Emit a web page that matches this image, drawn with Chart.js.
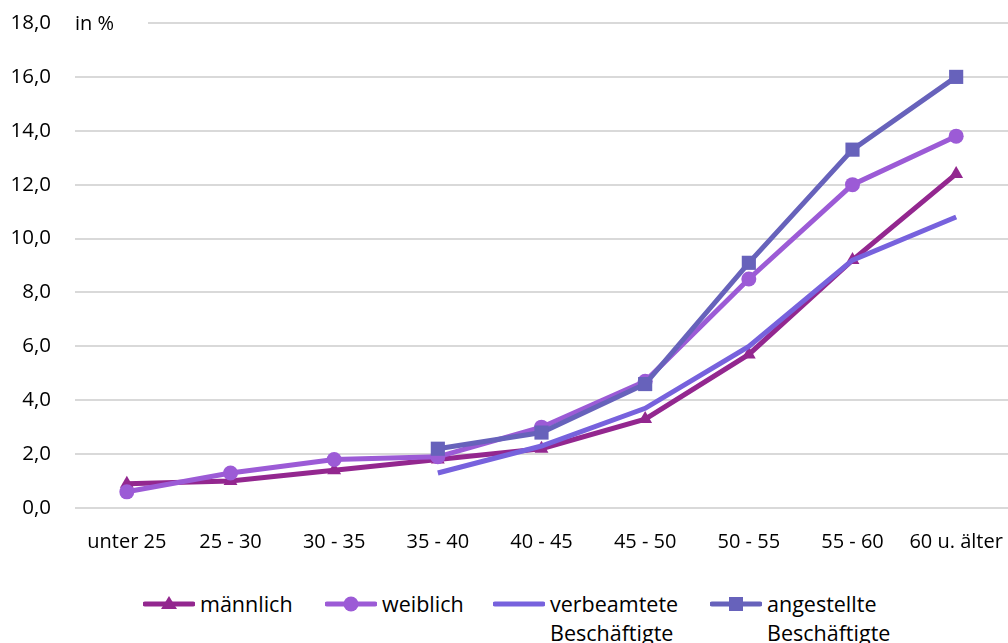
<!DOCTYPE html>
<html>
<head>
<meta charset="utf-8">
<script src="https://cdn.jsdelivr.net/npm/chart.js@4"></script>
<style>
  body { margin: 0; background: #fff; font-family: "Open Sans", sans-serif; }
  #wrap { position: relative; width: 1008px; height: 643px; }
  #chartBox { position: absolute; left: 0; top: 0; width: 1008px; height: 568px; }
  #legend { position: absolute; left: 0; top: 589px; width: 1008px; height: 54px; }
  .item { position: absolute; top: 0; display: flex; align-items: flex-start; font-size: 21.5px; color: #000; line-height: 29px; }
  .item svg { margin-right: 5px; margin-top: 3px; }
</style>
</head>
<body>
<div id="wrap">
  <div id="chartBox"><canvas id="chart"></canvas></div>
  <div id="legend"></div>
</div>
<script>
const categories = ['unter 25', '25 - 30', '30 - 35', '35 - 40', '40 - 45', '45 - 50', '50 - 55', '55 - 60', '60 u. älter'];
const maennlich = [0.9, 1.0, 1.4, 1.8, 2.2, 3.3, 5.7, 9.2, 12.4];
const weiblich = [0.6, 1.3, 1.8, 1.9, 3.0, 4.7, 8.5, 12.0, 13.8];
const verbeamtete = [null, null, null, 1.3, 2.3, 3.7, 6.0, 9.2, 10.8];
const angestellte = [null, null, null, 2.2, 2.8, 4.6, 9.1, 13.3, 16.0];
const yTicks = [0, 2, 4, 6, 8, 10, 12, 14, 16, 18];

const series = [
  { label: ['männlich'], data: maennlich, color: '#93278f', marker: 'triangle', radius: 8, order: 4, left: 143 },
  { label: ['weiblich'], data: weiblich, color: '#9c5bd6', marker: 'circle', radius: 7.5, order: 3, left: 325 },
  { label: ['verbeamtete', 'Beschäftigte'], data: verbeamtete, color: '#7762dd', marker: false, radius: 0, order: 2, left: 493 },
  { label: ['angestellte', 'Beschäftigte'], data: angestellte, color: '#6762bb', marker: 'rect', radius: 10, order: 1, left: 710 }
];

const unitLabel = {
  id: 'unitLabel',
  afterDraw(chart) {
    const ctx = chart.ctx;
    const y = chart.scales.y.getPixelForValue(18);
    const x = chart.chartArea.left;
    ctx.save();
    ctx.fillStyle = '#fff';
    ctx.fillRect(x - 1, y - 6, 74, 12);
    ctx.fillStyle = '#000';
    ctx.font = '20px "Open Sans"';
    ctx.textBaseline = 'middle';
    ctx.fillText('in %', x, y + 1);
    ctx.restore();
  }
};

new Chart(document.getElementById('chart'), {
  type: 'line',
  data: {
    labels: categories,
    datasets: series.map(s => ({
      label: s.label.join(' '),
      data: s.data,
      borderColor: s.color,
      backgroundColor: s.color,
      borderWidth: 5,
      pointStyle: s.marker,
      pointRadius: s.radius,
      pointHoverRadius: s.radius,
      pointBorderWidth: 0,
      tension: 0,
      order: s.order,
      spanGaps: false
    }))
  },
  options: {
    responsive: true,
    maintainAspectRatio: false,
    animation: false,
    layout: { autoPadding: false, padding: { top: 23, right: 0, left: 0, bottom: 0 } },
    plugins: { legend: { display: false }, tooltip: { enabled: false } },
    scales: {
      x: {
        offset: true,
        afterFit: scale => { scale.paddingLeft = 0; scale.paddingRight = 0; },
        grid: { display: false },
        border: { display: false },
        ticks: { color: '#000', font: { size: 20, family: 'Open Sans' }, padding: 14, maxRotation: 0 }
      },
      y: {
        min: 0,
        max: 18,
        afterFit: scale => { scale.width = 75; scale.paddingTop = 0; scale.paddingBottom = 0; },
        afterBuildTicks: scale => { scale.ticks = yTicks.map(v => ({ value: v })); },
        grid: { color: '#d9d9d9', lineWidth: 2, drawTicks: false },
        border: { display: false },
        ticks: {
          color: '#000',
          font: { size: 20.5, family: 'Open Sans' },
          padding: 24,
          callback: v => v.toFixed(1).replace('.', ',')
        }
      }
    }
  },
  plugins: [unitLabel]
});

// legend with line + marker like the original
const legend = document.getElementById('legend');
series.forEach(s => {
  const item = document.createElement('div');
  item.className = 'item';
  item.style.left = s.left + 'px';
  let mark = '';
  if (s.marker === 'triangle') mark = `<polygon points="26,4 34,17 18,17" fill="${s.color}"/>`;
  if (s.marker === 'circle') mark = `<circle cx="26" cy="12" r="7.5" fill="${s.color}"/>`;
  if (s.marker === 'rect') mark = `<rect x="19" y="5" width="14" height="14" fill="${s.color}"/>`;
  item.innerHTML = `<svg width="52" height="24"><line x1="2" y1="12" x2="50" y2="12" stroke="${s.color}" stroke-width="5" stroke-linecap="round"/>${mark}</svg><div>${s.label.join('<br>')}</div>`;
  legend.appendChild(item);
});
</script>
</body>
</html>
